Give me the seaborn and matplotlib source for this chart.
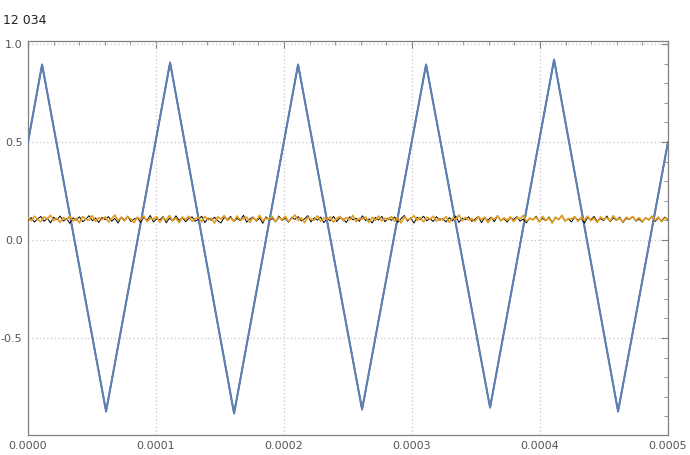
import numpy as np
import pandas as pd
import matplotlib
matplotlib.use("Agg")
import matplotlib.pyplot as plt
from matplotlib.ticker import MultipleLocator, FixedLocator
import seaborn as sns

# triangle wave vertices
tri_x = [0.0, 0.000011, 0.000061, 0.000111, 0.000161, 0.000211,
         0.000261, 0.000311, 0.000361, 0.000411, 0.000461, 0.0005]
tri_y = [0.50, 0.895, -0.875, 0.905, -0.885, 0.895,
         -0.865, 0.895, -0.855, 0.92, -0.875, 0.50]

# noisy traces around 0.1 (hand-read, approximate)
orange_y = [
    0.112, 0.098, 0.121, 0.104, 0.093, 0.117, 0.108, 0.126, 0.099, 0.110,
    0.090, 0.115, 0.103, 0.122, 0.096, 0.111, 0.087, 0.119, 0.106, 0.101,
    0.124, 0.095, 0.113, 0.104, 0.118, 0.092, 0.109, 0.127, 0.100, 0.114,
    0.097, 0.120, 0.105, 0.089, 0.116, 0.102, 0.123, 0.094, 0.110, 0.107,
    0.119, 0.091, 0.114, 0.101, 0.125, 0.098, 0.112, 0.088, 0.117, 0.104,
    0.121, 0.096, 0.109, 0.115, 0.093, 0.120, 0.103, 0.111, 0.086, 0.118,
    0.106, 0.124, 0.099, 0.113, 0.095, 0.122, 0.102, 0.108, 0.117, 0.090,
    0.114, 0.100, 0.126, 0.097, 0.111, 0.105, 0.119, 0.092, 0.115, 0.103,
    0.121, 0.094, 0.110, 0.128, 0.099, 0.113, 0.088, 0.116, 0.106, 0.101,
    0.123, 0.096, 0.112, 0.104, 0.118, 0.091, 0.109, 0.120, 0.098, 0.114,
    0.102, 0.125, 0.093, 0.110, 0.107, 0.117, 0.089, 0.115, 0.100, 0.122,
    0.097, 0.111, 0.104, 0.119, 0.095, 0.113, 0.087, 0.118, 0.103, 0.108,
    0.124, 0.099, 0.114, 0.092, 0.116, 0.106, 0.121, 0.096, 0.110, 0.101,
    0.119, 0.090, 0.112, 0.105, 0.127, 0.098, 0.115, 0.102, 0.109, 0.094,
    0.120, 0.103, 0.117, 0.088, 0.111, 0.106, 0.123, 0.097, 0.113, 0.100,
    0.118, 0.093, 0.114, 0.108, 0.125, 0.095, 0.110, 0.104, 0.116, 0.091,
    0.121, 0.099, 0.112, 0.086, 0.117, 0.103, 0.126, 0.096, 0.109, 0.107,
    0.119, 0.094, 0.115, 0.101, 0.122, 0.098, 0.111, 0.089, 0.118, 0.105,
    0.113, 0.097, 0.124, 0.102, 0.110, 0.092, 0.116, 0.106, 0.120, 0.099,
    0.114, 0.095, 0.111, 0.104, 0.121, 0.100, 0.117, 0.093, 0.112, 0.108,
]
black_y = [
    0.100, 0.114, 0.091, 0.108, 0.120, 0.095, 0.111, 0.087, 0.116, 0.103,
    0.122, 0.097, 0.109, 0.085, 0.113, 0.101, 0.118, 0.093, 0.106, 0.124,
    0.098, 0.112, 0.089, 0.115, 0.104, 0.119, 0.096, 0.110, 0.086, 0.117,
    0.102, 0.121, 0.094, 0.107, 0.113, 0.090, 0.116, 0.099, 0.125, 0.092,
    0.108, 0.103, 0.119, 0.088, 0.111, 0.097, 0.123, 0.100, 0.114, 0.093,
    0.109, 0.118, 0.095, 0.106, 0.121, 0.089, 0.112, 0.101, 0.116, 0.098,
    0.087, 0.115, 0.104, 0.120, 0.094, 0.110, 0.099, 0.126, 0.091, 0.107,
    0.117, 0.096, 0.112, 0.085, 0.118, 0.102, 0.109, 0.093, 0.122, 0.100,
    0.111, 0.090, 0.116, 0.105, 0.119, 0.097, 0.108, 0.124, 0.092, 0.113,
    0.101, 0.117, 0.088, 0.110, 0.098, 0.121, 0.094, 0.114, 0.106, 0.089,
    0.118, 0.103, 0.111, 0.095, 0.123, 0.099, 0.107, 0.087, 0.115, 0.102,
    0.120, 0.093, 0.112, 0.100, 0.117, 0.090, 0.109, 0.125, 0.096, 0.113,
    0.086, 0.116, 0.104, 0.121, 0.098, 0.110, 0.094, 0.119, 0.101, 0.108,
    0.092, 0.114, 0.097, 0.122, 0.089, 0.111, 0.103, 0.118, 0.095, 0.106,
    0.120, 0.088, 0.113, 0.100, 0.116, 0.093, 0.124, 0.099, 0.109, 0.091,
    0.115, 0.104, 0.119, 0.096, 0.107, 0.087, 0.112, 0.102, 0.121, 0.094,
    0.110, 0.098, 0.117, 0.090, 0.114, 0.105, 0.123, 0.097, 0.108, 0.092,
    0.118, 0.101, 0.111, 0.086, 0.115, 0.103, 0.120, 0.095, 0.109, 0.099,
    0.122, 0.093, 0.113, 0.100, 0.116, 0.089, 0.110, 0.104, 0.119, 0.096,
    0.107, 0.091, 0.114, 0.102, 0.120, 0.094, 0.112, 0.098, 0.117, 0.103,
]

x_ticks = [0.0, 0.0001, 0.0002, 0.0003, 0.0004, 0.0005]
x_labels = ["0.0000", "0.0001", "0.0002", "0.0003", "0.0004", "0.0005"]
y_ticks = [-0.5, 0.0, 0.5, 1.0]
y_labels = ["-0.5", "0.0", "0.5", "1.0"]
title = "12 034"

sns.set_style("white")
plt.rcParams["font.family"] = ["DejaVu Sans"]

fig = plt.figure(figsize=(6.9, 4.55), dpi=100)
ax = fig.add_axes([28 / 690, 20 / 455, 640 / 690, 394 / 455])

noise_x = np.linspace(0.0, 0.0005, len(orange_y))
df_tri = pd.DataFrame({"x": tri_x, "y": tri_y})
df_noise = pd.DataFrame({"x": noise_x, "orange": orange_y, "black": black_y})

blue = "#5E81B5"
orange = "#E19C24"

sns.lineplot(data=df_tri, x="x", y="y", ax=ax, color="black", lw=1.0,
             estimator=None, sort=False, zorder=2)
sns.lineplot(data=df_tri, x="x", y="y", ax=ax, color=blue, lw=1.5,
             estimator=None, sort=False, zorder=3)
sns.lineplot(data=df_noise, x="x", y="black", ax=ax, color="black", lw=0.7,
             estimator=None, sort=False, zorder=4)
sns.lineplot(data=df_noise, x="x", y="orange", ax=ax, color=orange, lw=1.2,
             estimator=None, sort=False, zorder=5)

ax.set_xlim(0.0, 0.0005)
ax.set_ylim(-0.995, 1.015)
ax.set_xlabel("")
ax.set_ylabel("")

frame_col = "#808080"
for s in ax.spines.values():
    s.set_visible(True)
    s.set_color(frame_col)
    s.set_linewidth(0.9)

ax.xaxis.set_major_locator(FixedLocator(x_ticks))
ax.set_xticklabels(x_labels)
ax.yaxis.set_major_locator(FixedLocator(y_ticks))
ax.set_yticklabels(y_labels)
ax.xaxis.set_minor_locator(MultipleLocator(0.00002))
ax.yaxis.set_minor_locator(MultipleLocator(0.1))

ax.tick_params(which="both", direction="in", top=True, right=True,
               color=frame_col, labelcolor="#555555", labelsize=8)
ax.tick_params(which="major", length=5, width=0.8, pad=4)
ax.tick_params(which="minor", length=3, width=0.6)

ax.grid(True, which="major", color="#c8c8c8", ls=(0, (1, 2)), lw=0.9)
ax.set_axisbelow(True)

fig.text(0.004, 0.955, title, fontsize=9, color="#222222",
         ha="left", va="center")

fig.savefig("out.png", dpi=100)
